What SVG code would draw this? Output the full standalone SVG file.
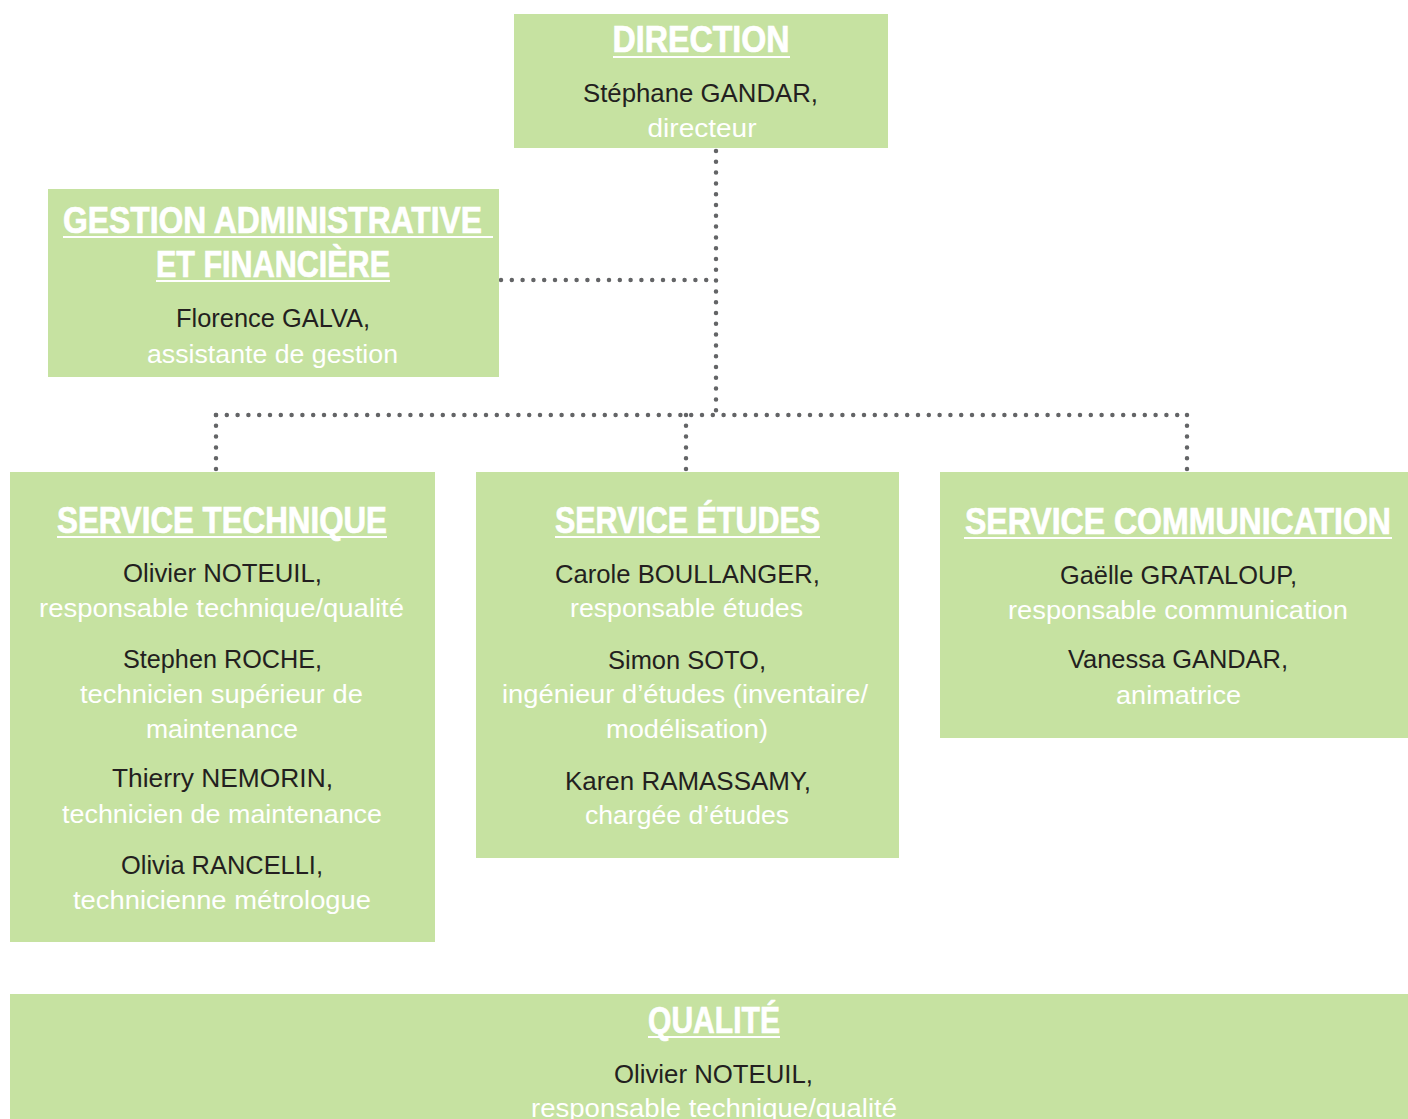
<svg xmlns="http://www.w3.org/2000/svg" width="1408" height="1119" viewBox="0 0 1408 1119">
  <style>
    .box { fill: #c6e2a1; }
    .title { font-family: "Liberation Sans", Arial, sans-serif; font-weight: bold; font-size: 36px; fill: #ffffff; stroke: #ffffff; stroke-width: 0.7px; text-anchor: middle; }
    .name { font-family: "Liberation Sans", Arial, sans-serif; font-size: 26px; fill: #231f20; text-anchor: middle; }
    .role { font-family: "Liberation Sans", Arial, sans-serif; font-size: 26px; fill: #ffffff; text-anchor: middle; }
    .ul { stroke: #ffffff; stroke-width: 2; }
    .dots { fill: none; stroke: #636466; stroke-width: 4.5; stroke-linecap: round; stroke-dasharray: 0 10.8; }
  </style>

  <!-- dotted hierarchy links -->
  <g id="connectors">
    <line class="dots" x1="716" y1="151" x2="716" y2="415"/>
    <line class="dots" x1="501" y1="280" x2="716" y2="280"/>
    <line class="dots" x1="216" y1="415" x2="1187" y2="415"/>
    <line class="dots" x1="216" y1="415" x2="216" y2="470.5"/>
    <line class="dots" x1="686" y1="415" x2="686" y2="470.5"/>
    <line class="dots" x1="1187" y1="415" x2="1187" y2="470.5"/>
  </g>

  <g id="direction">
    <rect class="box" x="514" y="14" width="374" height="134"/>
    <text class="title" x="701" y="52" textLength="177" lengthAdjust="spacingAndGlyphs">DIRECTION</text>
    <line class="ul" x1="613" y1="57" x2="790" y2="57"/>
    <text class="name" x="700.5" y="102" textLength="235" lengthAdjust="spacingAndGlyphs">Stéphane GANDAR,</text>
    <text class="role" x="702" y="137" textLength="109" lengthAdjust="spacingAndGlyphs">directeur</text>
  </g>

  <g id="gestion">
    <rect class="box" x="48" y="189" width="451" height="188"/>
    <text class="title" x="272.5" y="233" textLength="419" lengthAdjust="spacingAndGlyphs">GESTION ADMINISTRATIVE</text>
    <line class="ul" x1="63" y1="237" x2="493" y2="237"/>
    <text class="title" x="273" y="277" textLength="234" lengthAdjust="spacingAndGlyphs">ET FINANCIÈRE</text>
    <line class="ul" x1="156" y1="281" x2="390" y2="281"/>
    <text class="name" x="273" y="327" textLength="194" lengthAdjust="spacingAndGlyphs">Florence GALVA,</text>
    <text class="role" x="272.5" y="363" textLength="251" lengthAdjust="spacingAndGlyphs">assistante de gestion</text>
  </g>

  <g id="service-technique">
    <rect class="box" x="10" y="472" width="425" height="470"/>
    <text class="title" x="222" y="533" textLength="330" lengthAdjust="spacingAndGlyphs">SERVICE TECHNIQUE</text>
    <line class="ul" x1="57" y1="537" x2="387" y2="537"/>
    <text class="name" x="222.5" y="582" textLength="199" lengthAdjust="spacingAndGlyphs">Olivier NOTEUIL,</text>
    <text class="role" x="221.5" y="617" textLength="365" lengthAdjust="spacingAndGlyphs">responsable technique/qualité</text>
    <text class="name" x="222.5" y="668" textLength="199" lengthAdjust="spacingAndGlyphs">Stephen ROCHE,</text>
    <text class="role" x="221.5" y="703" textLength="283" lengthAdjust="spacingAndGlyphs">technicien supérieur de</text>
    <text class="role" x="222" y="738" textLength="152" lengthAdjust="spacingAndGlyphs">maintenance</text>
    <text class="name" x="222.5" y="787" textLength="221" lengthAdjust="spacingAndGlyphs">Thierry NEMORIN,</text>
    <text class="role" x="222" y="823" textLength="320" lengthAdjust="spacingAndGlyphs">technicien de maintenance</text>
    <text class="name" x="222" y="874" textLength="202" lengthAdjust="spacingAndGlyphs">Olivia RANCELLI,</text>
    <text class="role" x="222" y="909" textLength="298" lengthAdjust="spacingAndGlyphs">technicienne métrologue</text>
  </g>

  <g id="service-etudes">
    <rect class="box" x="476" y="472" width="423" height="386"/>
    <text class="title" x="687.5" y="533" textLength="265" lengthAdjust="spacingAndGlyphs">SERVICE ÉTUDES</text>
    <line class="ul" x1="555" y1="537" x2="820" y2="537"/>
    <text class="name" x="687.5" y="583" textLength="265" lengthAdjust="spacingAndGlyphs">Carole BOULLANGER,</text>
    <text class="role" x="686.5" y="617" textLength="233" lengthAdjust="spacingAndGlyphs">responsable études</text>
    <text class="name" x="687" y="669" textLength="158" lengthAdjust="spacingAndGlyphs">Simon SOTO,</text>
    <text class="role" x="685" y="703" textLength="366" lengthAdjust="spacingAndGlyphs">ingénieur d’études (inventaire/</text>
    <text class="role" x="687" y="738" textLength="162" lengthAdjust="spacingAndGlyphs">modélisation)</text>
    <text class="name" x="688" y="790" textLength="246" lengthAdjust="spacingAndGlyphs">Karen RAMASSAMY,</text>
    <text class="role" x="687" y="824" textLength="204" lengthAdjust="spacingAndGlyphs">chargée d’études</text>
  </g>

  <g id="service-communication">
    <rect class="box" x="940" y="472" width="468" height="266"/>
    <text class="title" x="1178" y="534" textLength="426" lengthAdjust="spacingAndGlyphs">SERVICE COMMUNICATION</text>
    <line class="ul" x1="964" y1="538" x2="1392" y2="538"/>
    <text class="name" x="1178.5" y="584" textLength="237" lengthAdjust="spacingAndGlyphs">Gaëlle GRATALOUP,</text>
    <text class="role" x="1178" y="619" textLength="340" lengthAdjust="spacingAndGlyphs">responsable communication</text>
    <text class="name" x="1178" y="668" textLength="220" lengthAdjust="spacingAndGlyphs">Vanessa GANDAR,</text>
    <text class="role" x="1178.5" y="704" textLength="125" lengthAdjust="spacingAndGlyphs">animatrice</text>
  </g>

  <g id="qualite">
    <rect class="box" x="10" y="994" width="1398" height="130"/>
    <text class="title" x="714" y="1033" textLength="132" lengthAdjust="spacingAndGlyphs">QUALITÉ</text>
    <line class="ul" x1="648" y1="1037" x2="780" y2="1037"/>
    <text class="name" x="713.5" y="1083" textLength="199" lengthAdjust="spacingAndGlyphs">Olivier NOTEUIL,</text>
    <text class="role" x="714" y="1117" textLength="366" lengthAdjust="spacingAndGlyphs">responsable technique/qualité</text>
  </g>
</svg>
